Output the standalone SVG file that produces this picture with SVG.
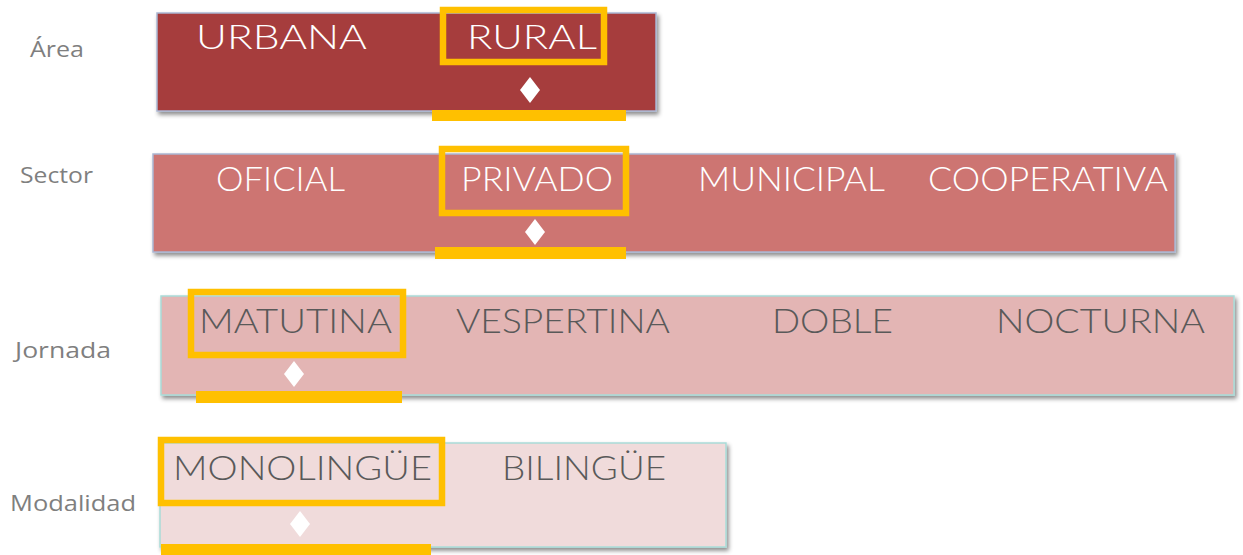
<svg xmlns="http://www.w3.org/2000/svg" width="1243" height="555" viewBox="0 0 1243 555">
<style>
.lbl{font-family:"Open Sans","Noto Sans",sans-serif;font-size:22px;fill:#7f7f7f}
.opt{font-family:Lato,"Open Sans",sans-serif;font-size:34px;font-weight:300}
.w{fill:#ffffff}
.g{fill:#595959}
.sel{fill:none;stroke:#ffc000;stroke-width:6.5}
.bar{fill:#ffc000}
.dia{fill:#ffffff}
.bxA{stroke:#aab6d2;stroke-width:1.5}
.bxB{stroke:#a9dcd8;stroke-width:1.5}
</style>
<defs>
<filter id="sh" x="-5%" y="-10%" width="110%" height="130%">
<feDropShadow dx="2" dy="3" stdDeviation="2" flood-color="#000" flood-opacity="0.45"/>
</filter>
</defs>
<rect width="1243" height="555" fill="#ffffff"/>

<g id="area">
<text class="lbl" x="30" y="57" textLength="54" lengthAdjust="spacingAndGlyphs">Área</text>
<rect class="bxA" x="157" y="13" width="499" height="98" fill="#a63e3c" filter="url(#sh)"/>
<text class="opt w" x="196" y="49" textLength="171" lengthAdjust="spacingAndGlyphs">URBANA</text>
<text class="opt w" x="467" y="49" textLength="130" lengthAdjust="spacingAndGlyphs">RURAL</text>
<rect class="sel" x="443" y="10" width="161" height="52"/>
<polygon class="dia" points="530,77 540,90 530,103 520,90"/>
<rect class="bar" x="432" y="110" width="194" height="11"/>
</g>

<g id="sector">
<text class="lbl" x="20" y="183" textLength="73" lengthAdjust="spacingAndGlyphs">Sector</text>
<rect class="bxA" x="153" y="154" width="1022" height="98" fill="#cd7572" filter="url(#sh)"/>
<text class="opt w" x="216" y="191" textLength="129" lengthAdjust="spacingAndGlyphs">OFICIAL</text>
<text class="opt w" x="461" y="191" textLength="152" lengthAdjust="spacingAndGlyphs">PRIVADO</text>
<text class="opt w" x="698" y="191" textLength="187" lengthAdjust="spacingAndGlyphs">MUNICIPAL</text>
<text class="opt w" x="928" y="191" textLength="240" lengthAdjust="spacingAndGlyphs">COOPERATIVA</text>
<rect class="sel" x="442" y="149" width="184" height="64"/>
<polygon class="dia" points="535,219 545,232 535,245 525,232"/>
<rect class="bar" x="435" y="247" width="191" height="12"/>
</g>

<g id="jornada">
<text class="lbl" x="15" y="358" textLength="96" lengthAdjust="spacingAndGlyphs">Jornada</text>
<rect class="bxB" x="161" y="296" width="1073" height="99" fill="#e3b5b4" filter="url(#sh)"/>
<text class="opt g" x="199" y="333" textLength="193" lengthAdjust="spacingAndGlyphs">MATUTINA</text>
<text class="opt g" x="456" y="333" textLength="214" lengthAdjust="spacingAndGlyphs">VESPERTINA</text>
<text class="opt g" x="772" y="333" textLength="121" lengthAdjust="spacingAndGlyphs">DOBLE</text>
<text class="opt g" x="996" y="333" textLength="209" lengthAdjust="spacingAndGlyphs">NOCTURNA</text>
<rect class="sel" x="191" y="292" width="212" height="63"/>
<polygon class="dia" points="294,361 304,374 294,387 284,374"/>
<rect class="bar" x="196" y="391" width="206" height="12"/>
</g>

<g id="modalidad">
<text class="lbl" x="10" y="511" textLength="126" lengthAdjust="spacingAndGlyphs">Modalidad</text>
<rect class="bxB" x="160" y="443" width="566" height="104" fill="#f0dbdb" filter="url(#sh)"/>
<text class="opt g" x="173" y="480" textLength="259" lengthAdjust="spacingAndGlyphs">MONOLINGÜE</text>
<text class="opt g" x="502" y="480" textLength="164" lengthAdjust="spacingAndGlyphs">BILINGÜE</text>
<rect class="sel" x="161" y="440" width="281" height="63"/>
<polygon class="dia" points="300,511 310,524 300,537 290,524"/>
<rect class="bar" x="161" y="544" width="270" height="11"/>
</g>
</svg>
